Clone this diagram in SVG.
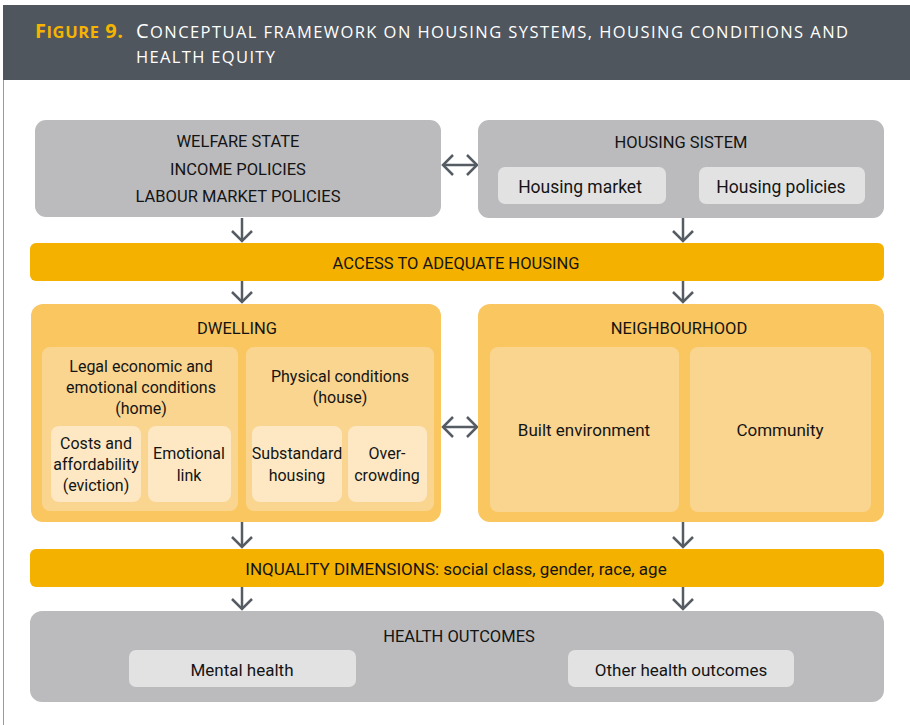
<svg xmlns="http://www.w3.org/2000/svg" width="910" height="725" viewBox="0 0 910 725">
  <style>
    .t { font-family: Roboto, "Liberation Sans", "DejaVu Sans", sans-serif; font-size: 17px; fill: #141414; text-anchor: middle; }
    .c { font-size: 16.5px; }
    .s { font-size: 16px; }
    .hd { font-family: "Open Sans", "Liberation Sans", "DejaVu Sans", sans-serif; fill: #ffffff; }
    .gold { fill: #f5b400; font-weight: 700; }
    .big { font-size: 20px; }
    .sm { font-size: 16.5px; }
    .gray { fill: #bbbbbd; }
    .lgray { fill: #e2e2e3; }
    .bar { fill: #f5b100; }
    .y1 { fill: #f9c660; }
    .y2 { fill: #fad590; }
    .y3 { fill: #fde8c3; }
    .conn { stroke: #565c63; stroke-width: 2.5; fill: none; }
  </style>
  <defs>
    <marker id="chev" viewBox="0 0 12 22" refX="11" refY="11" markerWidth="12" markerHeight="22" markerUnits="userSpaceOnUse" orient="auto-start-reverse" overflow="visible">
      <path d="M1,1 L11,11 L1,21" fill="none" stroke="#565c63" stroke-width="2.5" stroke-linecap="butt" stroke-linejoin="miter"/>
    </marker>
  </defs>

  <rect x="0" y="0" width="910" height="725" fill="#ffffff"/>
  <!-- header -->
  <g id="header">
    <rect x="3" y="5" width="907" height="75" fill="#50565e"/>
    <line x1="3.5" y1="80" x2="3.5" y2="725" stroke="#9a9a9a" stroke-width="1"/>
    <text class="hd gold" x="35" y="38" textLength="88" lengthAdjust="spacing"><tspan class="big">F</tspan><tspan class="sm">IGURE</tspan><tspan class="big"> 9.</tspan></text>
    <text class="hd" x="136" y="38" textLength="712" lengthAdjust="spacing"><tspan class="big">C</tspan><tspan class="sm">ONCEPTUAL FRAMEWORK ON HOUSING SYSTEMS, HOUSING CONDITIONS AND</tspan></text>
    <text class="hd sm" x="136" y="63" textLength="139" lengthAdjust="spacing">HEALTH EQUITY</text>
  </g>

  <!-- connectors -->
  <g id="connectors">
    <line class="conn" x1="443" y1="165" x2="477" y2="165" marker-start="url(#chev)" marker-end="url(#chev)"/>
    <line class="conn" x1="443" y1="427" x2="477" y2="427" marker-start="url(#chev)" marker-end="url(#chev)"/>
    <line class="conn" x1="242" y1="218" x2="242" y2="241" marker-end="url(#chev)"/>
    <line class="conn" x1="683" y1="218" x2="683" y2="241" marker-end="url(#chev)"/>
    <line class="conn" x1="242" y1="281" x2="242" y2="302" marker-end="url(#chev)"/>
    <line class="conn" x1="683" y1="281" x2="683" y2="302" marker-end="url(#chev)"/>
    <line class="conn" x1="242" y1="522" x2="242" y2="547" marker-end="url(#chev)"/>
    <line class="conn" x1="683" y1="522" x2="683" y2="547" marker-end="url(#chev)"/>
    <line class="conn" x1="242" y1="587" x2="242" y2="609" marker-end="url(#chev)"/>
    <line class="conn" x1="683" y1="587" x2="683" y2="609" marker-end="url(#chev)"/>
  </g>

  <g id="welfare">
    <rect class="gray" x="35" y="120" width="406" height="97" rx="11"/>
    <text class="t c" x="238" y="147">WELFARE STATE</text>
    <text class="t c" x="238" y="175">INCOME POLICIES</text>
    <text class="t c" x="238" y="202">LABOUR MARKET POLICIES</text>
  </g>

  <g id="housing-system">
    <rect class="gray" x="478" y="120" width="406" height="98" rx="11"/>
    <text class="t c" x="681" y="148">HOUSING SISTEM</text>
    <g id="housing-market">
      <rect class="lgray" x="498" y="167" width="168" height="37" rx="7"/>
      <text class="t" x="580" y="193" style="font-size:17.5px">Housing market</text>
    </g>
    <g id="housing-policies">
      <rect class="lgray" x="699" y="167" width="166" height="37" rx="7"/>
      <text class="t" x="781" y="193" style="font-size:17.5px">Housing policies</text>
    </g>
  </g>

  <g id="access">
    <rect class="bar" x="30" y="243" width="854" height="38" rx="6"/>
    <text class="t c" x="456" y="269">ACCESS TO ADEQUATE HOUSING</text>
  </g>

  <g id="dwelling">
    <rect class="y1" x="31" y="304" width="410" height="218" rx="12"/>
    <text class="t c" x="237" y="334">DWELLING</text>
    <g id="legal">
      <rect class="y2" x="42" y="347" width="196" height="164" rx="8"/>
      <text class="t s" x="141" y="372">Legal economic and</text>
      <text class="t s" x="141" y="393">emotional conditions</text>
      <text class="t s" x="141" y="414">(home)</text>
    </g>
    <g id="costs">
      <rect class="y3" x="51" y="426" width="90" height="76" rx="8"/>
      <text class="t s" x="96" y="449">Costs and</text>
      <text class="t s" x="96" y="470">affordability</text>
      <text class="t s" x="96" y="491">(eviction)</text>
    </g>
    <g id="emotional">
      <rect class="y3" x="148" y="426" width="83" height="76" rx="8"/>
      <text class="t s" x="189" y="459">Emotional</text>
      <text class="t s" x="189" y="481">link</text>
    </g>
    <g id="physical">
      <rect class="y2" x="246" y="347" width="188" height="164" rx="8"/>
      <text class="t s" x="340" y="382">Physical conditions</text>
      <text class="t s" x="340" y="403">(house)</text>
    </g>
    <g id="substandard">
      <rect class="y3" x="252" y="426" width="90" height="76" rx="8"/>
      <text class="t s" x="297" y="459">Substandard</text>
      <text class="t s" x="297" y="481">housing</text>
    </g>
    <g id="overcrowding">
      <rect class="y3" x="348" y="426" width="79" height="76" rx="8"/>
      <text class="t s" x="387" y="459">Over-</text>
      <text class="t s" x="387" y="481">crowding</text>
    </g>
  </g>

  <g id="neighbourhood">
    <rect class="y1" x="478" y="304" width="406" height="218" rx="12"/>
    <text class="t c" x="679" y="334">NEIGHBOURHOOD</text>
    <g id="built">
      <rect class="y2" x="490" y="347" width="189" height="165" rx="8"/>
      <text class="t" x="584" y="436">Built environment</text>
    </g>
    <g id="community">
      <rect class="y2" x="690" y="347" width="181" height="165" rx="8"/>
      <text class="t" x="780" y="436">Community</text>
    </g>
  </g>

  <g id="inequality">
    <rect class="bar" x="30" y="549" width="854" height="38" rx="6"/>
    <text class="t" x="456" y="575">INQUALITY DIMENSIONS: social class, gender, race, age</text>
  </g>

  <g id="health">
    <rect class="gray" x="30" y="611" width="854" height="91" rx="12"/>
    <text class="t c" x="459" y="642">HEALTH OUTCOMES</text>
    <g id="mental">
      <rect class="lgray" x="129" y="650" width="227" height="37" rx="7"/>
      <text class="t" x="242" y="676">Mental health</text>
    </g>
    <g id="other">
      <rect class="lgray" x="568" y="650" width="226" height="37" rx="7"/>
      <text class="t" x="681" y="676">Other health outcomes</text>
    </g>
  </g>
</svg>
